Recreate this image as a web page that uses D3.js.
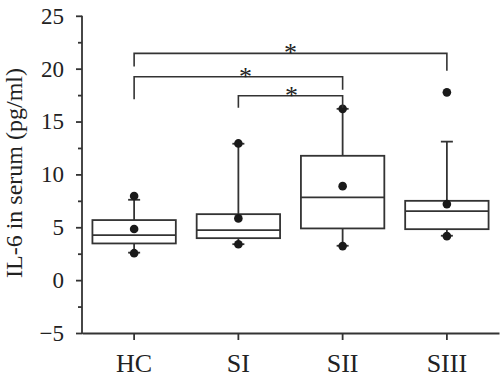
<!DOCTYPE html>
<html>
<head>
<meta charset="utf-8">
<script src="https://cdn.jsdelivr.net/npm/d3@7"></script>
<style>
  body { margin: 0; background: #fff; }
  svg text { font-family: "Liberation Serif", "DejaVu Serif", serif; fill: #222; }
</style>
</head>
<body>
<svg id="chart" width="500" height="381"></svg>
<script>
const groups = ["HC", "SI", "SII", "SIII"];
const q1 = [3.47, 3.97, 4.89, 4.82];
const medians = [4.26, 4.73, 7.82, 6.53];
const q3 = [5.68, 6.24, 11.76, 7.5];
const whiskerLow = [2.6, 3.4, 3.25, 4.2];
const whiskerHigh = [7.6, 12.9, 16.2, 13.1];
const means = [4.83, 5.84, 8.89, 7.19];
const minDots = [2.55, 3.4, 3.22, 4.16];
const maxDots = [7.95, 12.93, 16.2, 17.76];
const yTicks = [-5, 0, 5, 10, 15, 20, 25];

// significance brackets: from, to, bar level, left leg end, right leg end
const bracketFrom = ["HC", "HC", "SI"];
const bracketTo = ["SIII", "SII", "SII"];
const bracketLevel = [21.45, 19.24, 17.44];
const bracketLeftEnd = [20.2, 17.1, 16.3];
const bracketRightEnd = [19.8, 18.0, 16.3];
const bracketLabel = ["*", "*", "*"];

const ink = "#333";
const svg = d3.select("#chart");

const x = d3.scaleBand().domain(groups).range([82, 499]).padding(0);
const y = d3.scaleLinear().domain([-5, 25]).range([333, 15.8]);

// axes
const yAxis = svg.append("g")
    .attr("transform", "translate(82,0)")
    .call(d3.axisLeft(y).tickValues(yTicks).tickSize(6).tickPadding(12));
const yMinor = svg.append("g")
    .attr("transform", "translate(82,0)")
    .call(d3.axisLeft(y).tickValues(d3.range(-2.5, 25, 5)).tickSize(4).tickFormat(""));
yMinor.select(".domain").remove();

const xAxis = svg.append("g")
    .attr("transform", "translate(0,333)")
    .call(d3.axisBottom(x).tickSize(7).tickPadding(14).tickSizeOuter(0));

[yAxis, yMinor, xAxis].forEach(g => {
    g.selectAll("path, line").attr("stroke", ink).attr("stroke-width", 1.8);
});
yAxis.select(".domain").attr("d", "M0," + y(25) + "V" + (y(-5) + 0.9));
yAxis.selectAll("text").attr("font-size", 23).attr("font-family", "Liberation Serif").attr("fill", "#222")
    .text(d => d < 0 ? "\u2212" + Math.abs(d) : d);
xAxis.selectAll("text").attr("font-size", 26).attr("font-family", "Liberation Serif").attr("fill", "#222");

svg.append("text")
    .attr("transform", "translate(14,173) rotate(-90)")
    .attr("text-anchor", "middle")
    .attr("dominant-baseline", "central")
    .attr("font-size", 24)
    .text("IL-6 in serum (pg/ml)");

// boxes
const boxW = x.bandwidth() * 0.8;
const capW = 12;
const cx = i => x(groups[i]) + x.bandwidth() / 2;
const box = svg.append("g").attr("stroke", ink).attr("stroke-width", 1.8).attr("fill", "none");

groups.forEach((g, i) => {
    box.append("line").attr("x1", cx(i)).attr("x2", cx(i))
        .attr("y1", y(q3[i])).attr("y2", y(whiskerHigh[i]));
    box.append("line").attr("x1", cx(i)).attr("x2", cx(i))
        .attr("y1", y(q1[i])).attr("y2", y(whiskerLow[i]));
    box.append("line").attr("x1", cx(i) - capW / 2).attr("x2", cx(i) + capW / 2)
        .attr("y1", y(whiskerHigh[i])).attr("y2", y(whiskerHigh[i]));
    box.append("line").attr("x1", cx(i) - capW / 2).attr("x2", cx(i) + capW / 2)
        .attr("y1", y(whiskerLow[i])).attr("y2", y(whiskerLow[i]));
    box.append("rect").attr("x", cx(i) - boxW / 2).attr("width", boxW)
        .attr("y", y(q3[i])).attr("height", y(q1[i]) - y(q3[i]));
    box.append("line").attr("x1", cx(i) - boxW / 2).attr("x2", cx(i) + boxW / 2)
        .attr("y1", y(medians[i])).attr("y2", y(medians[i]));
});

const dots = svg.append("g").attr("fill", "#1a1a1a");
[means, minDots, maxDots].forEach(arr => {
    dots.selectAll(null).data(arr).enter().append("circle")
        .attr("cx", (d, i) => cx(i))
        .attr("cy", d => y(d))
        .attr("r", 4.3);
});

// brackets
const starShift = [0, 7, 1];
const br = svg.append("g").attr("stroke", ink).attr("stroke-width", 1.6).attr("fill", "none");
bracketFrom.forEach((f, k) => {
    const x1 = x(f) + x.bandwidth() / 2;
    const x2 = x(bracketTo[k]) + x.bandwidth() / 2;
    br.append("path").attr("d",
        "M" + x1 + "," + y(bracketLevel[k]) + "m0,-0.8" +
        "V" + y(bracketLeftEnd[k]) +
        "M" + x1 + "," + y(bracketLevel[k]) +
        "H" + x2 +
        "V" + y(bracketRightEnd[k]));
    svg.append("text")
        .attr("x", (x1 + x2) / 2 + starShift[k])
        .attr("y", y(bracketLevel[k]) + 8)
        .attr("text-anchor", "middle")
        .attr("font-family", "DejaVu Sans")
        .attr("font-size", 26)
        .attr("fill", "#333")
        .text(bracketLabel[k]);
});
</script>
</body>
</html>
